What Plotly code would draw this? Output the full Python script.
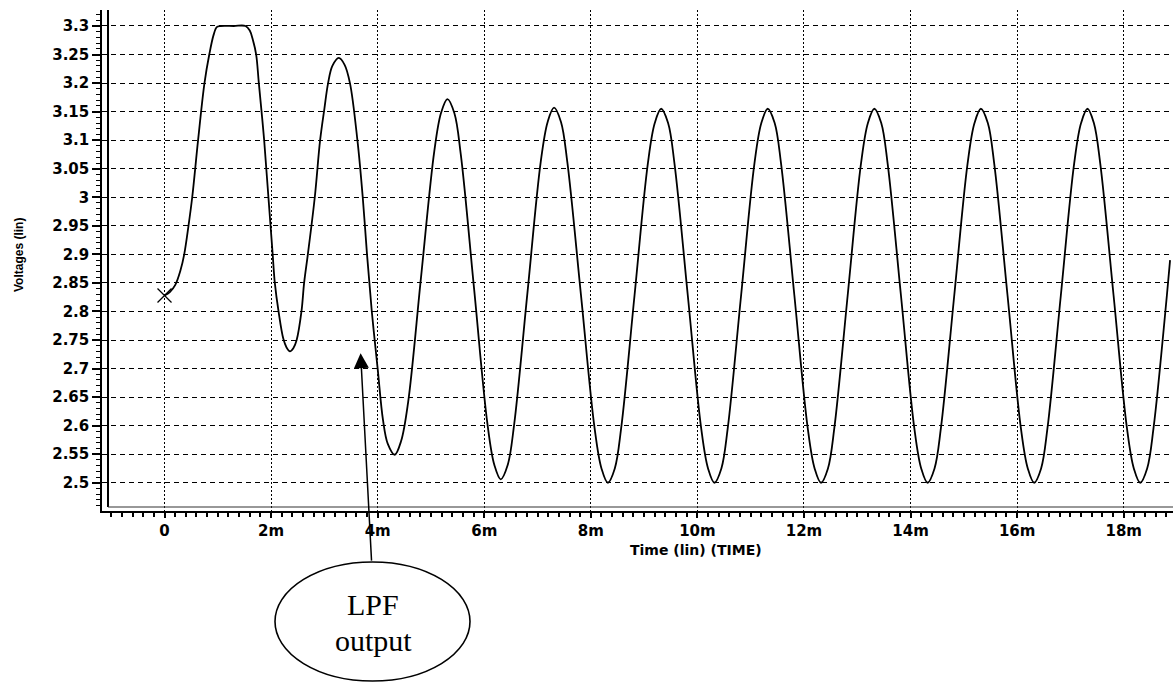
import plotly.graph_objects as go

# ---- data (time in ms, voltage in V) ----
t_ms = [0.00, 0.10, 0.20, 0.30, 0.37, 0.45, 0.52, 0.63, 0.75, 0.84, 0.92, 0.98,
        1.05, 1.30, 1.52, 1.60, 1.66, 1.72, 1.77, 1.87, 1.95, 2.03, 2.07, 2.14,
        2.23, 2.29, 2.355, 2.42, 2.48, 2.57, 2.62, 2.69, 2.82, 2.92, 3.00, 3.07,
        3.15, 3.27, 3.38, 3.48, 3.62, 3.72, 3.80, 3.89, 4.00, 4.10, 4.19, 4.32,
        4.44, 4.57, 4.815, 5.063, 5.19, 5.31,
        5.44, 5.56, 5.81, 6.06, 6.19, 6.31,
        6.44, 6.56, 6.81, 7.06, 7.19, 7.31,
        7.44, 7.56, 7.815, 8.07, 8.20, 8.32,
        8.45, 8.57, 8.82, 9.07, 9.20, 9.32,
        9.45, 9.57, 9.82, 10.07, 10.20, 10.32,
        10.45, 10.57, 10.82, 11.07, 11.20, 11.32,
        11.45, 11.57, 11.82, 12.07, 12.20, 12.32,
        12.45, 12.57, 12.82, 13.07, 13.20, 13.32,
        13.45, 13.57, 13.82, 14.07, 14.20, 14.32,
        14.45, 14.57, 14.82, 15.07, 15.20, 15.32,
        15.45, 15.57, 15.82, 16.07, 16.20, 16.32,
        16.45, 16.57, 16.82, 17.07, 17.20, 17.32,
        17.44, 17.56, 17.81, 18.06, 18.19, 18.31,
        18.44, 18.56, 18.81, 18.87]

v_out = [2.828, 2.834, 2.846, 2.872, 2.900, 2.950, 3.000, 3.100, 3.200, 3.250, 3.284, 3.298,
         3.300, 3.300, 3.300, 3.292, 3.275, 3.250, 3.200, 3.100, 3.000, 2.900, 2.850, 2.800,
         2.752, 2.737, 2.730, 2.736, 2.750, 2.800, 2.850, 2.900, 3.000, 3.100, 3.155, 3.200,
         3.230, 3.244, 3.232, 3.200, 3.100, 3.000, 2.900, 2.800, 2.700, 2.610, 2.568, 2.549,
         2.573, 2.640, 2.861, 3.081, 3.148, 3.172,
         3.147, 3.075, 2.839, 2.603, 2.531, 2.506,
         2.531, 2.601, 2.832, 3.062, 3.132, 3.157,
         3.132, 3.061, 2.829, 2.596, 2.525, 2.500,
         2.525, 2.596, 2.828, 3.059, 3.130, 3.155,
         3.130, 3.059, 2.828, 2.596, 2.525, 2.500,
         2.525, 2.596, 2.828, 3.059, 3.130, 3.155,
         3.130, 3.059, 2.828, 2.596, 2.525, 2.500,
         2.525, 2.596, 2.828, 3.059, 3.130, 3.155,
         3.130, 3.059, 2.828, 2.596, 2.525, 2.500,
         2.525, 2.596, 2.828, 3.059, 3.130, 3.155,
         3.130, 3.059, 2.828, 2.596, 2.525, 2.500,
         2.525, 2.596, 2.828, 3.059, 3.130, 3.155,
         3.130, 3.059, 2.828, 2.596, 2.525, 2.500,
         2.525, 2.596, 2.828, 2.890]

x_tick_ms = [0, 2, 4, 6, 8, 10, 12, 14, 16, 18]
x_tick_labels = ["0", "2m", "4m", "6m", "8m", "10m", "12m", "14m", "16m", "18m"]

y_title = "Voltages (lin)"
x_title = "Time (lin) (TIME)"
callout_lines = ["LPF", "output"]

t_s = [t / 1000.0 for t in t_ms]
x_tick_s = [t / 1000.0 for t in x_tick_ms]

# ---- geometry helpers (pixel -> paper) ----
W, H = 1173, 682
L, R, T, B = 102, 0, 10, 171
PW, PH = W - L - R, H - T - B


def px(x):
    return (x - L) / PW


def py(y):
    return (H - B - y) / PH


tick_font = dict(family="DejaVu Sans", size=15, color="black", weight="bold")

fig = go.Figure()
fig.add_trace(go.Scatter(
    x=t_s, y=v_out, mode="lines",
    line=dict(color="black", width=1.8, shape="spline", smoothing=1),
    showlegend=False, hoverinfo="skip"))
fig.add_trace(go.Scatter(
    x=[t_s[0]], y=[v_out[0]], mode="markers",
    marker=dict(symbol="x-thin", size=14, line=dict(color="black", width=1.3)),
    showlegend=False, hoverinfo="skip"))

fig.update_layout(
    width=W, height=H,
    margin=dict(l=L, r=R, t=T, b=B, autoexpand=False),
    paper_bgcolor="white", plot_bgcolor="white",
    showlegend=False,
    xaxis=dict(
        range=[-0.001173, 0.018925],
        tickmode="array", tickvals=x_tick_s, ticktext=x_tick_labels,
        ticks="outside", ticklen=5, tickwidth=1.5, tickcolor="black",
        minor=dict(tickmode="linear", dtick=0.0002, tick0=0, ticks="outside", ticklen=4,
                   tickwidth=1.5, tickcolor="black", showgrid=False),
        showline=True, linecolor="black", linewidth=1.5,
        showgrid=True, gridcolor="black", gridwidth=1.3, griddash="2px,2px",
        zeroline=False, tickfont=tick_font, automargin=False,
    ),
    yaxis=dict(
        range=[2.4505, 3.328],
        tickmode="linear", tick0=2.5, dtick=0.05,
        ticks="outside", ticklen=8, tickwidth=1.5, tickcolor="black",
        minor=dict(dtick=0.01, tick0=2.5, ticks="outside", ticklen=4,
                   tickwidth=1.2, tickcolor="black", showgrid=False),
        showline=True, linecolor="black", linewidth=1.5,
        showgrid=True, gridcolor="black", gridwidth=1.2, griddash="5px,4px",
        zeroline=False, tickfont=tick_font, automargin=False,
    ),
    shapes=[
        # inner frame lines of the plot area
        dict(type="line", xref="paper", yref="paper",
             x0=px(108), x1=px(108), y0=py(507), y1=1,
             line=dict(color="black", width=2)),
        dict(type="line", xref="paper", yref="paper",
             x0=px(108), x1=1, y0=py(507), y1=py(507),
             line=dict(color="#333333", width=1.2)),
        # callout ellipse
        dict(type="circle", xref="paper", yref="paper",
             x0=px(275), x1=px(470), y0=py(681), y1=py(562),
             line=dict(color="black", width=1.6)),
    ],
    annotations=[
        dict(text=y_title, xref="paper", yref="paper", x=px(19), y=py(255),
             textangle=-90, showarrow=False, xanchor="center", yanchor="middle",
             font=dict(family="Liberation Sans", size=12, color="black", weight="bold")),
        dict(text=x_title, xref="paper", yref="paper", x=px(696), y=py(540),
             showarrow=False, xanchor="center", yanchor="top",
             font=dict(family="DejaVu Sans", size=14, color="black", weight="bold")),
        dict(text=callout_lines[0], xref="paper", yref="paper", x=px(373), y=py(604),
             showarrow=False, xanchor="center", yanchor="middle",
             font=dict(family="Liberation Serif", size=30, color="black")),
        dict(text=callout_lines[1], xref="paper", yref="paper", x=px(373), y=py(640),
             showarrow=False, xanchor="center", yanchor="middle",
             font=dict(family="Liberation Serif", size=30, color="black")),
        dict(text="", xref="x", yref="y", x=0.00368, y=2.727,
             ax=11, ay=209, showarrow=True, arrowhead=2, arrowsize=2.0,
             arrowwidth=1.5, arrowcolor="black", standoff=0),
    ],
)

fig.write_html("out.html")
